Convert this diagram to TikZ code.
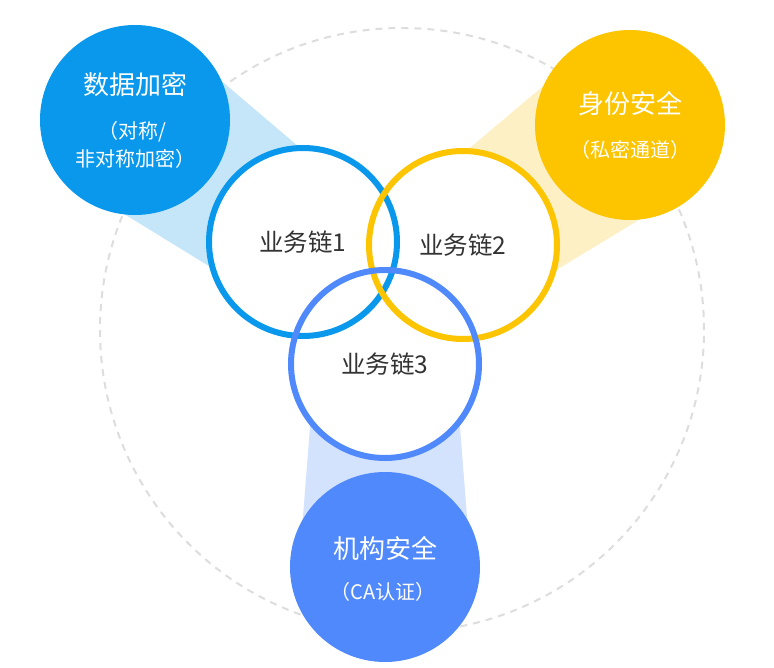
\documentclass[tikz,border=0pt]{standalone}
\usepackage{fontspec}
\newfontfamily\cjk{Noto Sans CJK SC}
\usetikzlibrary{calc}
\definecolor{chainblue}{HTML}{0A98EC}
\definecolor{chainyellow}{HTML}{FDC400}
\definecolor{chainviolet}{HTML}{5089FC}
\definecolor{lightblue}{HTML}{C5E6F9}
\definecolor{lightyellow}{HTML}{FDF0C4}
\definecolor{lightviolet}{HTML}{D3E2FD}
\definecolor{dashgray}{HTML}{DDDDDD}
\definecolor{textgray}{HTML}{333333}
\tikzset{
  disk/.style={circle, minimum size=190pt, inner sep=0pt, fill=#1},
  hole/.style={circle, minimum size=188pt, inner sep=0pt, fill=white},
  headtext/.style={text=white, font=\cjk\fontsize{26}{26}\selectfont},
  subtext/.style={text=white, font=\cjk\fontsize{20}{20}\selectfont},
  chaintext/.style={text=textgray, font=\cjk\fontsize{24.5}{24.5}\selectfont}
}
\begin{document}
\begin{tikzpicture}[x=1pt, y=-1pt]
    \useasboundingbox (0,0) rectangle (774,668);
    \draw[dashgray, line width=2pt, dash pattern=on 7pt off 6pt] (402,330) circle[radius=302pt]; % The outer guide
    \coordinate (p1) at (135,120); % Disk centres
    \coordinate (p2) at (630,125);
    \coordinate (p3) at (385,567);
    \coordinate (q1) at (303,242); % Ring centres
    \coordinate (q2) at (463,245);
    \coordinate (q3) at (385,364);
    \foreach \p/\q/\c in {p1/q1/lightblue, p2/q2/lightyellow, p3/q3/lightviolet} % Light bands
        \fill[\c] ($(\p)!86pt!90:(\q)$) -- ($(\q)!70pt!-90:(\p)$) -- ($(\q)!70pt!90:(\p)$) -- ($(\p)!86pt!-90:(\q)$) -- cycle;
    \node[disk=chainblue] (d1) at (p1) {};
    \node[disk=chainyellow] (d2) at (p2) {};
    \node[disk=chainviolet] (d3) at (p3) {};
    \node[headtext] (h1) at ($(d1)+(0,-35)$) {数据加密};
    \node[subtext] (s1a) at ($(d1)+(-3,11.5)$) {（对称/};
    \node[subtext] (s1b) at ($(d1)+(0,39)$) {非对称加密）};
    \node[headtext] (h2) at ($(d2)+(0,-21)$) {身份安全};
    \node[subtext] (s2) at ($(d2)+(0,25)$) {（私密通道）};
    \node[headtext] (h3) at ($(d3)+(0,-19)$) {机构安全};
    \node[subtext] (s3) at ($(d3)+(-2,25)$) {（CA认证）};
    \foreach \n in {1,2,3} % White insides
        \node[hole] (r\n) at (q\n) {};
    \foreach \n/\c in {1/chainblue, 2/chainyellow, 3/chainviolet} % Ring outlines
        \draw[\c, line width=6pt] (r\n.center) circle[radius=94pt];
    \foreach \n in {1,2,3}
        \node[chaintext] (l\n) at (r\n) {业务链\n};
\end{tikzpicture}
\end{document}
